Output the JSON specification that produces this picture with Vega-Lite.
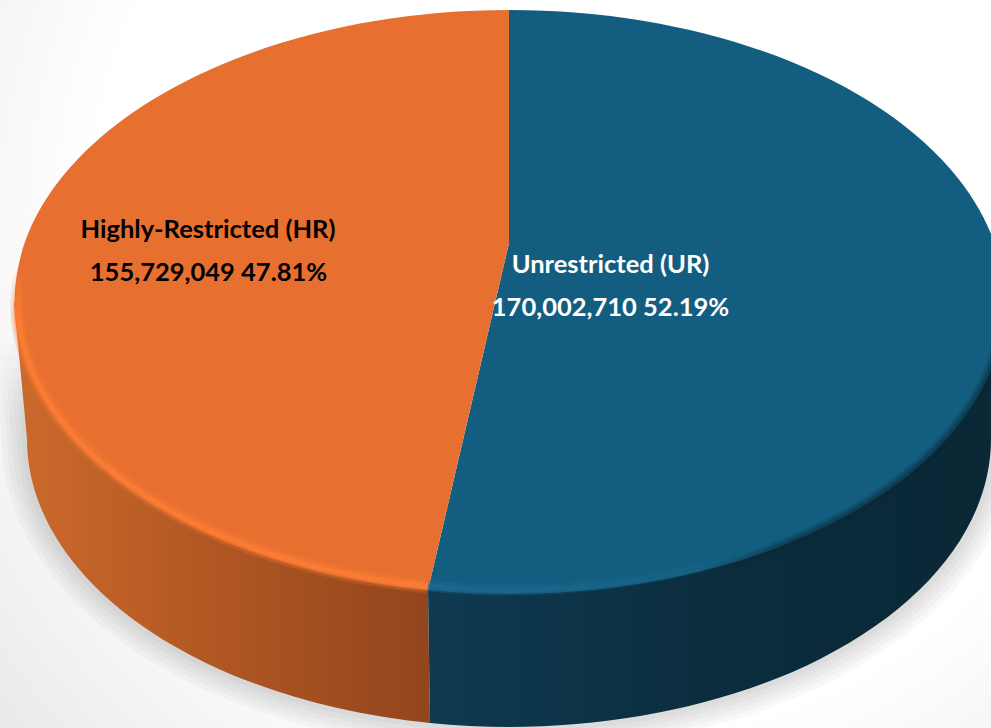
{
  "$schema": "https://vega.github.io/schema/vega-lite/v6.json",
  "width": 991,
  "height": 728,
  "padding": 0,
  "autosize": "none",
  "background": "#ffffff",
  "view": {"stroke": null},
  "datasets": {
    "slices": [
      {"restriction": "Unrestricted (UR)", "population": 170002710, "share": 52.19, "figures": "170,002,710 52.19%"},
      {"restriction": "Highly-Restricted (HR)", "population": 155729049, "share": 47.81, "figures": "155,729,049 47.81%"}
    ]
  },
  "data": {"name": "slices"},
  "layer": [
    {
      "transform": [{"filter": "datum.share > 50"}],
      "mark": {"type": "point", "size": 4, "opacity": 1, "filled": true, "strokeWidth": 0,
        "shape": "M-496,-364 L496,-364 L496,364 L-496,364 Z",
        "fill": {"gradient": "radial", "x1": 0.62, "y1": 0.35, "r1": 0, "x2": 0.62, "y2": 0.35, "r2": 0.85,
          "stops": [{"offset": 0, "color": "#ffffff"}, {"offset": 0.62, "color": "#ffffff"}, {"offset": 1, "color": "#e6e6e6"}]}}
    },
    {
      "transform": [{"filter": "datum.share > 50"}],
      "mark": {"type": "point", "size": 4, "opacity": 0.022, "filled": false, "strokeWidth": 50,
        "shape": "M-477,-20 L-468.5,75 A482,288 0 0 0 495.5,75 L505,-20",
        "stroke": {"gradient": "linear", "x1": 0, "y1": 0, "x2": 0, "y2": 1,
          "stops": [{"offset": 0, "color": "rgba(0,0,0,0)"}, {"offset": 0.2, "color": "rgba(0,0,0,1)"}, {"offset": 1, "color": "rgba(0,0,0,1)"}]}}
    },
    {
      "transform": [{"filter": "datum.share > 50"}],
      "mark": {"type": "point", "size": 4, "opacity": 0.022, "filled": false, "strokeWidth": 40,
        "shape": "M-477,-20 L-468.5,75 A482,288 0 0 0 495.5,75 L505,-20",
        "stroke": {"gradient": "linear", "x1": 0, "y1": 0, "x2": 0, "y2": 1,
          "stops": [{"offset": 0, "color": "rgba(0,0,0,0)"}, {"offset": 0.2, "color": "rgba(0,0,0,1)"}, {"offset": 1, "color": "rgba(0,0,0,1)"}]}}
    },
    {
      "transform": [{"filter": "datum.share > 50"}],
      "mark": {"type": "point", "size": 4, "opacity": 0.022, "filled": false, "strokeWidth": 30,
        "shape": "M-477,-20 L-468.5,75 A482,288 0 0 0 495.5,75 L505,-20",
        "stroke": {"gradient": "linear", "x1": 0, "y1": 0, "x2": 0, "y2": 1,
          "stops": [{"offset": 0, "color": "rgba(0,0,0,0)"}, {"offset": 0.2, "color": "rgba(0,0,0,1)"}, {"offset": 1, "color": "rgba(0,0,0,1)"}]}}
    },
    {
      "transform": [{"filter": "datum.share > 50"}],
      "mark": {"type": "point", "size": 4, "opacity": 0.022, "filled": false, "strokeWidth": 20,
        "shape": "M-477,-20 L-468.5,75 A482,288 0 0 0 495.5,75 L505,-20",
        "stroke": {"gradient": "linear", "x1": 0, "y1": 0, "x2": 0, "y2": 1,
          "stops": [{"offset": 0, "color": "rgba(0,0,0,0)"}, {"offset": 0.2, "color": "rgba(0,0,0,1)"}, {"offset": 1, "color": "rgba(0,0,0,1)"}]}}
    },
    {
      "transform": [{"filter": "datum.share > 50"}],
      "mark": {"type": "point", "size": 4, "opacity": 0.022, "filled": false, "strokeWidth": 10,
        "shape": "M-477,-20 L-468.5,75 A482,288 0 0 0 495.5,75 L505,-20",
        "stroke": {"gradient": "linear", "x1": 0, "y1": 0, "x2": 0, "y2": 1,
          "stops": [{"offset": 0, "color": "rgba(0,0,0,0)"}, {"offset": 0.2, "color": "rgba(0,0,0,1)"}, {"offset": 1, "color": "rgba(0,0,0,1)"}]}}
    },
    {
      "transform": [{"filter": "datum.share < 50"}],
      "mark": {"type": "point", "size": 4, "opacity": 1, "filled": true, "strokeWidth": 0,
        "shape": "M-481.5,-62 L-468.5,75 A482,288 0 0 0 -65.5,359 L-67.5,226 Z",
        "fill": {"gradient": "linear", "x1": 0, "y1": 0, "x2": 1, "y2": 0,
          "stops": [{"offset": 0, "color": "#cc6a2d"}, {"offset": 0.45, "color": "#b35823"}, {"offset": 1, "color": "#92451e"}]}}
    },
    {
      "transform": [{"filter": "datum.share > 50"}],
      "mark": {"type": "point", "size": 4, "opacity": 1, "filled": true, "strokeWidth": 0,
        "shape": "M-67.5,226 L-65.5,359 A482,288 0 0 0 495.5,75 L508.5,-62 Z",
        "fill": {"gradient": "linear", "x1": 0, "y1": 0, "x2": 1, "y2": 0,
          "stops": [{"offset": 0, "color": "#0f3a51"}, {"offset": 0.5, "color": "#0b2d3e"}, {"offset": 1, "color": "#0a2735"}]}}
    },
    {
      "mark": {"type": "point", "size": 4, "opacity": 1, "filled": true, "strokeWidth": 0},
      "encoding": {
        "shape": {"field": "restriction", "type": "nominal", "legend": null,
          "scale": {"domain": ["Unrestricted (UR)", "Highly-Restricted (HR)"],
            "range": ["M13.5,-121 L13.5,-354 A495,292 0 1 1 -67.5,226 Z", "M13.5,-121 L13.5,-354 A495,292 0 0 0 -67.5,226 Z"]}},
        "color": {"field": "restriction", "type": "nominal", "legend": null,
          "scale": {"domain": ["Unrestricted (UR)", "Highly-Restricted (HR)"], "range": ["#135e80", "#e76f30"]}}
      }
    },
    {
      "transform": [{"filter": "datum.share > 50"}],
      "mark": {"type": "point", "size": 4, "opacity": 0.15, "filled": false, "strokeWidth": 13,
        "shape": "M204.5,207 A495,292 0 0 0 504.5,-25",
        "stroke": {"gradient": "linear", "x1": 0, "y1": 0, "x2": 1, "y2": 0,
          "stops": [{"offset": 0, "color": "rgba(10,39,53,0)"}, {"offset": 0.3, "color": "rgba(10,39,53,1)"}, {"offset": 1, "color": "rgba(10,39,53,1)"}]}}
    },
    {
      "transform": [{"filter": "datum.share > 50"}],
      "mark": {"type": "point", "size": 4, "opacity": 0.2, "filled": false, "strokeWidth": 9,
        "shape": "M204.5,207 A495,292 0 0 0 504.5,-25",
        "stroke": {"gradient": "linear", "x1": 0, "y1": 0, "x2": 1, "y2": 0,
          "stops": [{"offset": 0, "color": "rgba(10,39,53,0)"}, {"offset": 0.3, "color": "rgba(10,39,53,1)"}, {"offset": 1, "color": "rgba(10,39,53,1)"}]}}
    },
    {
      "transform": [{"filter": "datum.share > 50"}],
      "mark": {"type": "point", "size": 4, "opacity": 0.3, "filled": false, "strokeWidth": 5,
        "shape": "M204.5,207 A495,292 0 0 0 504.5,-25",
        "stroke": {"gradient": "linear", "x1": 0, "y1": 0, "x2": 1, "y2": 0,
          "stops": [{"offset": 0, "color": "rgba(10,39,53,0)"}, {"offset": 0.3, "color": "rgba(10,39,53,1)"}, {"offset": 1, "color": "rgba(10,39,53,1)"}]}}
    },
    {
      "transform": [{"filter": "datum.share < 50"}],
      "mark": {"type": "point", "size": 4, "opacity": 0.25, "filled": false, "strokeWidth": 15,
        "shape": "M-474.5,-94 A491,288 0 0 0 -67.5,222",
        "stroke": {"gradient": "linear", "x1": 0, "y1": 0, "x2": 0, "y2": 1,
          "stops": [{"offset": 0, "color": "rgba(245,120,50,0)"}, {"offset": 0.14, "color": "rgba(245,120,50,1)"}, {"offset": 1, "color": "rgba(245,120,50,1)"}]}}
    },
    {
      "transform": [{"filter": "datum.share < 50"}],
      "mark": {"type": "point", "size": 4, "opacity": 0.4, "filled": false, "strokeWidth": 10,
        "shape": "M-474.5,-94 A491,288 0 0 0 -67.5,222",
        "stroke": {"gradient": "linear", "x1": 0, "y1": 0, "x2": 0, "y2": 1,
          "stops": [{"offset": 0, "color": "rgba(250,124,52,0)"}, {"offset": 0.14, "color": "rgba(250,124,52,1)"}, {"offset": 1, "color": "rgba(250,124,52,1)"}]}}
    },
    {
      "transform": [{"filter": "datum.share < 50"}],
      "mark": {"type": "point", "size": 4, "opacity": 0.6, "filled": false, "strokeWidth": 5,
        "shape": "M-474.5,-94 A491,288 0 0 0 -67.5,222",
        "stroke": {"gradient": "linear", "x1": 0, "y1": 0, "x2": 0, "y2": 1,
          "stops": [{"offset": 0, "color": "rgba(255,127,55,0)"}, {"offset": 0.14, "color": "rgba(255,127,55,1)"}, {"offset": 1, "color": "rgba(255,127,55,1)"}]}}
    },
    {
      "transform": [{"filter": "datum.share > 50"}],
      "mark": {"type": "point", "size": 4, "opacity": 0.3, "filled": false, "strokeWidth": 11,
        "shape": "M-67.5,222 A491,288 0 0 0 324.5,161",
        "stroke": {"gradient": "linear", "x1": 0, "y1": 0, "x2": 1, "y2": 0,
          "stops": [{"offset": 0, "color": "rgba(32,112,152,1)"}, {"offset": 1, "color": "rgba(32,112,152,0)"}]}}
    },
    {
      "transform": [{"filter": "datum.share > 50"}],
      "mark": {"type": "point", "size": 4, "opacity": 0.4, "filled": false, "strokeWidth": 5,
        "shape": "M-67.5,222 A491,288 0 0 0 324.5,161",
        "stroke": {"gradient": "linear", "x1": 0, "y1": 0, "x2": 1, "y2": 0,
          "stops": [{"offset": 0, "color": "rgba(32,112,152,1)"}, {"offset": 1, "color": "rgba(32,112,152,0)"}]}}
    },
    {
      "transform": [{"filter": "datum.share < 50"}],
      "mark": {"type": "text", "font": "Lato", "fontWeight": "bold", "fontSize": 25.5, "color": "#000000", "align": "center", "baseline": "middle", "dx": -287.5, "dy": -134},
      "encoding": {"text": {"field": "restriction", "type": "nominal"}}
    },
    {
      "transform": [{"filter": "datum.share < 50"}],
      "mark": {"type": "text", "font": "Lato", "fontWeight": "bold", "fontSize": 25.5, "color": "#000000", "align": "center", "baseline": "middle", "dx": -287, "dy": -91},
      "encoding": {"text": {"field": "figures", "type": "nominal"}}
    },
    {
      "transform": [{"filter": "datum.share > 50"}],
      "mark": {"type": "text", "font": "Lato", "fontWeight": "bold", "fontSize": 25.5, "color": "#ffffff", "align": "center", "baseline": "middle", "dx": 115, "dy": -99},
      "encoding": {"text": {"field": "restriction", "type": "nominal"}}
    },
    {
      "transform": [{"filter": "datum.share > 50"}],
      "mark": {"type": "text", "font": "Lato", "fontWeight": "bold", "fontSize": 25.5, "color": "#ffffff", "align": "center", "baseline": "middle", "dx": 115, "dy": -56},
      "encoding": {"text": {"field": "figures", "type": "nominal"}}
    }
  ]
}
